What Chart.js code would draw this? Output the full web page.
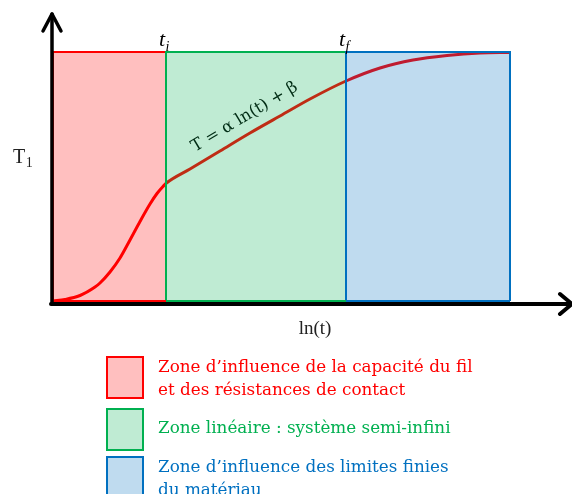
<!DOCTYPE html>
<html><head><meta charset="utf-8">
<script src="https://cdn.jsdelivr.net/npm/chart.js@4"></script>
<style>html,body{margin:0;padding:0;background:#fff}#wrap{width:572px;height:494px;position:relative}</style>
</head><body><div id="wrap"><canvas id="c"></canvas></div>
<script>
// ---- data ----
const curveX = [1, 13, 28, 43, 48, 58, 68, 78, 88, 98, 105, 111, 114.5, 138, 168, 198, 228, 258, 294, 328, 361, 395, 428, 458];
const curveY = [0, 1.5, 5.5, 14, 18, 29, 43, 61, 79.5, 97, 107.5, 114.5, 118, 132, 150, 168, 185, 202, 220, 233, 241, 245.5, 248, 248.5];
const zoneStart = [1, 114, 294];
const zoneEnd = [114, 294, 458];
const zoneTop = 249;
const boundarySubs = ['i', 'f'];
const legendLines = [
  ['Zone d’influence de la capacité du fil', 'et des résistances de contact'],
  ['Zone linéaire : système semi-infini'],
  ['Zone d’influence des limites finies', 'du matériau']
];
const yLabel = 'T', ySub = '1', xLabel = 'ln(t)', equation = 'T = α ln(t) + β';

// ---- styles ----
const zoneLine = ['#ff0000', '#00b050', '#0070c0'];
const zoneFill = ['rgba(255,0,0,0.25)', 'rgba(0,176,80,0.25)', 'rgba(0,112,192,0.25)'];
const SERIF = '"Liberation Serif", "DejaVu Serif", serif';
const DSERIF = '"DejaVu Serif", serif';

const datasets = [];
datasets.push({
  data: curveX.map((v, i) => ({x: v, y: curveY[i]})),
  borderColor: '#ff0000', borderWidth: 3, pointRadius: 0,
  cubicInterpolationMode: 'monotone', fill: false, order: 10
});
zoneStart.forEach((s, i) => {
  const e = zoneEnd[i];
  datasets.push({
    data: [{x: s, y: 0}, {x: s, y: zoneTop}, {x: e, y: zoneTop}, {x: e, y: 0}],
    borderColor: zoneLine[i], backgroundColor: zoneFill[i], borderWidth: 2,
    pointRadius: 0, tension: 0, fill: 'origin', order: 5 - i
  });
});

const deco = {
  id: 'deco',
  beforeDatasetsDraw(chart) {
    const {ctx, scales: {x, y}} = chart;
    ctx.save();
    ctx.translate(x.getPixelForValue(143), y.getPixelForValue(149));
    ctx.rotate(-31 * Math.PI / 180);
    ctx.font = '16.5px ' + DSERIF;
    ctx.fillStyle = '#000';
    ctx.textBaseline = 'alphabetic';
    ctx.fillText(equation, 0, 0);
    ctx.restore();
  },
  afterDatasetsDraw(chart) {
    const {ctx, scales: {x, y}} = chart;
    const x0 = x.getPixelForValue(0), yb = y.getPixelForValue(-3);
    ctx.save();
    zoneStart.forEach((s, i) => {
      ctx.strokeStyle = zoneLine[i]; ctx.lineWidth = 2;
      ctx.beginPath(); ctx.moveTo(x.getPixelForValue(s), y.getPixelForValue(0));
      ctx.lineTo(x.getPixelForValue(zoneEnd[i]), y.getPixelForValue(0)); ctx.stroke();
    });
    ctx.strokeStyle = '#000'; ctx.lineCap = 'round'; ctx.lineJoin = 'round';
    ctx.lineWidth = 3.5;
    ctx.beginPath(); ctx.moveTo(x0, yb); ctx.lineTo(x0, 14); ctx.stroke();
    ctx.beginPath(); ctx.moveTo(x0 - 9, 31); ctx.lineTo(x0, 14); ctx.lineTo(x0 + 9, 31); ctx.stroke();
    ctx.lineWidth = 4;
    ctx.beginPath(); ctx.moveTo(x0 - 1, yb); ctx.lineTo(571, yb); ctx.stroke();
    ctx.beginPath(); ctx.moveTo(560, yb - 10); ctx.lineTo(572, yb); ctx.lineTo(560, yb + 10); ctx.stroke();
    ctx.restore();
  },
  afterDraw(chart) {
    const {ctx, scales: {x, y}} = chart;
    ctx.save();
    ctx.fillStyle = '#000';
    ctx.textBaseline = 'alphabetic';
    [zoneStart[1], zoneStart[2]].forEach((v, i) => {
      const px = x.getPixelForValue(v);
      ctx.font = 'italic 22px ' + SERIF;
      ctx.textAlign = 'left';
      const tx = px - 7;
      ctx.fillText('t', tx, 46);
      const w = ctx.measureText('t').width;
      ctx.font = 'italic 14px ' + SERIF;
      ctx.fillText(boundarySubs[i], tx + w + 0.5, 51);
    });
    ctx.font = '20px ' + SERIF;
    ctx.textAlign = 'left';
    ctx.fillStyle = '#222';
    ctx.fillText(yLabel, 13, 163);
    const tw = ctx.measureText(yLabel).width;
    ctx.font = '14px ' + SERIF;
    ctx.fillText(ySub, 13 + tw + 0.5, 167);
    ctx.font = '19px ' + SERIF;
    ctx.textAlign = 'center';
    ctx.fillText(xLabel, 315, 334);
    const boxTops = [357, 409, 457];
    const baseFirst = [372, 433, 472];
    legendLines.forEach((lines, i) => {
      ctx.fillStyle = '#fff';
      ctx.fillRect(107, boxTops[i], 36, 41);
      ctx.fillStyle = zoneFill[i];
      ctx.fillRect(107, boxTops[i], 36, 41);
      ctx.strokeStyle = zoneLine[i]; ctx.lineWidth = 2;
      ctx.strokeRect(107, boxTops[i], 36, 41);
      ctx.fillStyle = zoneLine[i];
      ctx.font = '16.8px ' + DSERIF;
      ctx.textAlign = 'left';
      lines.forEach((t, j) => ctx.fillText(t, 158, baseFirst[i] + 23 * j));
    });
    ctx.restore();
  }
};

new Chart(document.getElementById('c'), {
  type: 'line',
  data: {datasets},
  options: {
    responsive: true, maintainAspectRatio: false, animation: false,
    layout: {padding: {left: 52, right: 0, top: 11, bottom: 193}},
    plugins: {legend: {display: false}, tooltip: {enabled: false}},
    events: [],
    scales: {
      x: {type: 'linear', min: 0, max: 520, display: false},
      y: {type: 'linear', min: 0, max: 290, display: false}
    }
  },
  plugins: [deco]
});
</script></body></html>
